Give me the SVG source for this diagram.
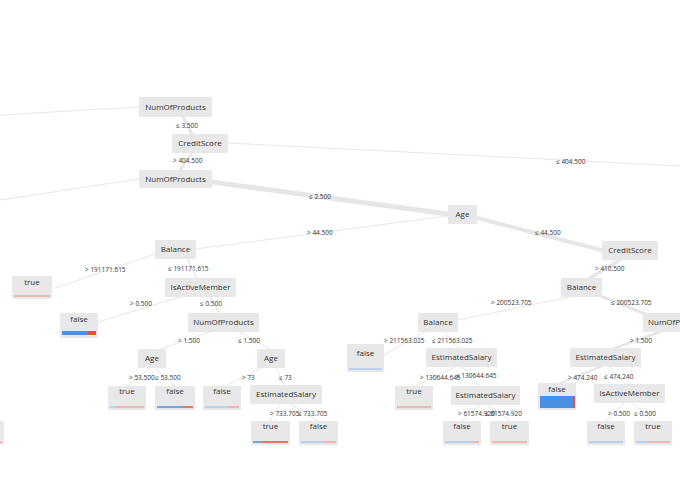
<svg xmlns="http://www.w3.org/2000/svg" width="680" height="494" viewBox="0 0 680 494">
<style>
.n rect{fill:#e8e8e8}
.n rect.fb{fill:#4a90e2}
.n rect.fr{fill:#e8503a}
.n text{font-family:"Open Sans","Liberation Sans",sans-serif;font-size:8px;fill:#333;text-anchor:middle}
.e{stroke:#e6e6e6;fill:none;stroke-linecap:round}
.l{font-family:"Open Sans","Liberation Sans",sans-serif;font-size:6.5px;fill:#333}
.b{stroke:#4a90e2;stroke-width:1.5}
.r{stroke:#e8503a;stroke-width:1.5}
.bl{stroke:#aac8f0;stroke-width:1.5}
.rl{stroke:#f0a8a0;stroke-width:1.5}
</style>
<rect width="680" height="494" fill="#fff"/>
<g id="connectors">
<path class="e" d="M139,107 L0,115" stroke-width="1"/>
<path class="e" d="M228,143 L680,166" stroke-width="1"/>
<path class="e" d="M139,179 L0,200" stroke-width="1"/>
<path class="e" d="M183,117 L192,134" stroke-width="3"/>
<path class="e" d="M192,153 L180,170" stroke-width="3"/>
<path class="e" d="M212,182 L448,214" stroke-width="5"/>
<path class="e" d="M448,216 L196,249" stroke-width="1"/>
<path class="e" d="M477,218 L605,251" stroke-width="4"/>
<path class="e" d="M155,254 L55,288" stroke-width="1"/>
<path class="e" d="M188,259 L196,278" stroke-width="1.5"/>
<path class="e" d="M620,260 L590,278" stroke-width="3.5"/>
<path class="e" d="M180,297 L98,322" stroke-width="1"/>
<path class="e" d="M210,297 L220,313" stroke-width="1.5"/>
<path class="e" d="M570,297 L458,320" stroke-width="1"/>
<path class="e" d="M596,294 L650,316" stroke-width="3"/>
<path class="e" d="M210,332 L160,349" stroke-width="1"/>
<path class="e" d="M240,332 L270,349" stroke-width="1"/>
<path class="e" d="M425,332 L384,355" stroke-width="1"/>
<path class="e" d="M444,332 L458,348" stroke-width="1"/>
<path class="e" d="M660,332 L615,348" stroke-width="2.5"/>
<path class="e" d="M150,368 L128,386" stroke-width="1"/>
<path class="e" d="M155,368 L175,386" stroke-width="1"/>
<path class="e" d="M262,368 L225,386" stroke-width="1"/>
<path class="e" d="M276,368 L284,385" stroke-width="1"/>
<path class="e" d="M455,367 L415,386" stroke-width="1"/>
<path class="e" d="M462,367 L480,386" stroke-width="1"/>
<path class="e" d="M600,367 L560,383" stroke-width="2"/>
<path class="e" d="M610,367 L625,384" stroke-width="1"/>
<path class="e" d="M280,404 L270,421" stroke-width="1"/>
<path class="e" d="M290,404 L318,421" stroke-width="1"/>
<path class="e" d="M480,405 L462,421" stroke-width="1"/>
<path class="e" d="M488,405 L510,421" stroke-width="1"/>
<path class="e" d="M624,403 L606,421" stroke-width="1"/>
<path class="e" d="M632,403 L653,421" stroke-width="1"/>
<text class="l" x="176" y="128">≤ 3.500</text>
<text class="l" x="173" y="163">&gt; 404.500</text>
<text class="l" x="556" y="164">≤ 404.500</text>
<text class="l" x="309" y="199">≤ 2.500</text>
<text class="l" x="307" y="235">&gt; 44.500</text>
<text class="l" x="535" y="235">≤ 44.500</text>
<text class="l" x="85" y="272">&gt; 191171.615</text>
<text class="l" x="168" y="271">≤ 191171.615</text>
<text class="l" x="130" y="306">&gt; 0.500</text>
<text class="l" x="200" y="306">≤ 0.500</text>
<text class="l" x="491" y="305">&gt; 200523.705</text>
<text class="l" x="611" y="305">≤ 200523.705</text>
<text class="l" x="595" y="271">&gt; 410.500</text>
<text class="l" x="178" y="343">&gt; 1.500</text>
<text class="l" x="238" y="343">≤ 1.500</text>
<text class="l" x="384" y="343">&gt; 211563.025</text>
<text class="l" x="432" y="343">≤ 211563.025</text>
<text class="l" x="630" y="343">&gt; 1.500</text>
<text class="l" x="129" y="380">&gt; 53.500</text>
<text class="l" x="155" y="380">≤ 53.500</text>
<text class="l" x="242" y="380">&gt; 73</text>
<text class="l" x="279" y="380">≤ 73</text>
<text class="l" x="420" y="380">&gt; 130644.645</text>
<text class="l" x="456" y="378">≤ 130644.645</text>
<text class="l" x="568" y="380">&gt; 474.240</text>
<text class="l" x="604" y="379">≤ 474.240</text>
<text class="l" x="270" y="416">&gt; 733.705</text>
<text class="l" x="298" y="416">≤ 733.705</text>
<text class="l" x="458" y="416">&gt; 61574.920</text>
<text class="l" x="485" y="416">≤ 61574.920</text>
<text class="l" x="608" y="416">&gt; 0.500</text>
<text class="l" x="634" y="416">≤ 0.500</text>
</g>
<g id="n1" class="n"><rect x="139" y="97" width="73" height="20"/><text x="175.5" y="110">NumOfProducts</text></g>
<g id="n2" class="n"><rect x="172" y="134" width="56" height="19"/><text x="200" y="146">CreditScore</text></g>
<g id="n3" class="n"><rect x="139" y="170" width="73" height="18"/><text x="175.5" y="182">NumOfProducts</text></g>
<g id="n4" class="n"><rect x="448" y="205" width="29" height="19"/><text x="462.5" y="217">Age</text></g>
<g id="n5" class="n"><rect x="155" y="240" width="41" height="19"/><text x="175.5" y="252">Balance</text></g>
<g id="n6" class="n"><rect x="602" y="241" width="56" height="19"/><text x="630" y="253">CreditScore</text></g>
<g id="n7" class="n"><rect x="12" y="276" width="40" height="23"/><text x="32" y="285">true</text><line class="rl" x1="14" y1="296" x2="50" y2="296"/></g>
<g id="n8" class="n"><rect x="165" y="278" width="71" height="19"/><text x="200.5" y="290">IsActiveMember</text></g>
<g id="n9" class="n"><rect x="561" y="278" width="41" height="19"/><text x="581.5" y="290">Balance</text></g>
<g id="n10" class="n"><rect x="60" y="313" width="38" height="25"/><text x="79" y="322">false</text><rect class="fb" x="62" y="331" width="26" height="4"/><rect class="fr" x="88" y="331" width="8" height="4"/></g>
<g id="n11" class="n"><rect x="188" y="313" width="71" height="19"/><text x="223.5" y="325">NumOfProducts</text></g>
<g id="n12" class="n"><rect x="418" y="313" width="40" height="19"/><text x="438" y="325">Balance</text></g>
<g id="n13" class="n"><rect x="643" y="313" width="40" height="19"/><text x="648" y="325" style="text-anchor:start">NumOfProducts</text></g>
<g id="n14" class="n"><rect x="138" y="349" width="28" height="19"/><text x="152" y="361">Age</text></g>
<g id="n15" class="n"><rect x="257" y="349" width="28" height="19"/><text x="271" y="361">Age</text></g>
<g id="n16" class="n"><rect x="347" y="344" width="37" height="28"/><text x="365.5" y="356">false</text><line class="bl" x1="349" y1="369" x2="382" y2="369"/></g>
<g id="n17" class="n"><rect x="426" y="348" width="71" height="19"/><text x="461.5" y="360">EstimatedSalary</text></g>
<g id="n18" class="n"><rect x="570" y="348" width="71" height="19"/><text x="605.5" y="360">EstimatedSalary</text></g>
<g id="n19" class="n"><rect x="108" y="386" width="38" height="24"/><text x="127" y="394">true</text><line class="bl" x1="110" y1="407" x2="116" y2="407"/><line class="rl" x1="116" y1="407" x2="144" y2="407"/></g>
<g id="n20" class="n"><rect x="155" y="386" width="40" height="24"/><text x="175" y="394">false</text><line class="b" x1="157" y1="407" x2="183" y2="407"/><line class="r" x1="183" y1="407" x2="193" y2="407"/></g>
<g id="n21" class="n"><rect x="203" y="386" width="38" height="24"/><text x="222" y="394">false</text><line class="bl" x1="205" y1="407" x2="228" y2="407"/><line class="rl" x1="228" y1="407" x2="239" y2="407"/></g>
<g id="n22" class="n"><rect x="250" y="385" width="72" height="19"/><text x="286" y="397">EstimatedSalary</text></g>
<g id="n23" class="n"><rect x="395" y="386" width="38" height="24"/><text x="414" y="394">true</text><line class="rl" x1="397" y1="407" x2="431" y2="407"/></g>
<g id="n24" class="n"><rect x="451" y="386" width="69" height="19"/><text x="485.5" y="398">EstimatedSalary</text></g>
<g id="n25" class="n"><rect x="538" y="383" width="38" height="27"/><text x="557" y="392">false</text><rect class="fb" x="540" y="396" width="33" height="12"/><rect class="fr" x="573" y="396" width="2" height="12"/></g>
<g id="n26" class="n"><rect x="594" y="384" width="71" height="19"/><text x="629.5" y="396">IsActiveMember</text></g>
<g id="n27" class="n"><rect x="251" y="421" width="39" height="24"/><text x="270.5" y="429">true</text><line class="b" x1="253" y1="442" x2="262" y2="442"/><line class="r" x1="262" y1="442" x2="288" y2="442"/></g>
<g id="n28" class="n"><rect x="299" y="421" width="39" height="24"/><text x="318.5" y="429">false</text><line class="bl" x1="301" y1="442" x2="324" y2="442"/><line class="rl" x1="324" y1="442" x2="336" y2="442"/></g>
<g id="n29" class="n"><rect x="443" y="421" width="38" height="24"/><text x="462" y="429">false</text><line class="bl" x1="445" y1="442" x2="472" y2="442"/><line class="rl" x1="472" y1="442" x2="479" y2="442"/></g>
<g id="n30" class="n"><rect x="490" y="421" width="39" height="24"/><text x="509.5" y="429">true</text><line class="rl" x1="492" y1="442" x2="527" y2="442"/></g>
<g id="n31" class="n"><rect x="587" y="421" width="38" height="24"/><text x="606" y="429">false</text><line class="bl" x1="589" y1="442" x2="623" y2="442"/></g>
<g id="n32" class="n"><rect x="634" y="421" width="38" height="24"/><text x="653" y="429">true</text><line class="bl" x1="636" y1="442" x2="648" y2="442"/><line class="rl" x1="648" y1="442" x2="670" y2="442"/></g>
<g id="n33" class="n"><rect x="-36" y="421" width="40" height="24"/><line class="rl" x1="-34" y1="442" x2="2" y2="442"/></g>
</svg>
